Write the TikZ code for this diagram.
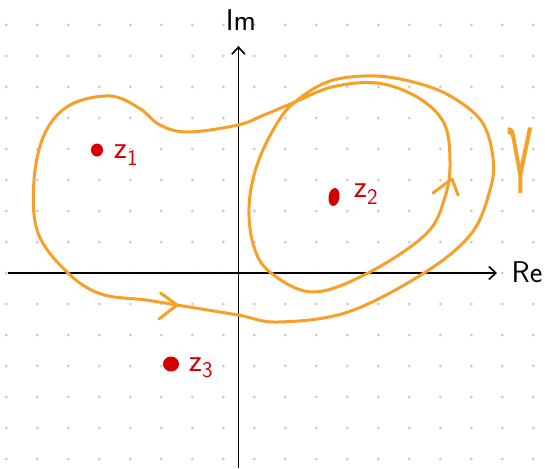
\documentclass[tikz,border=0pt]{standalone}
\usepackage{fontspec}
\newfontfamily\gammafont{DejaVu Sans}
\usetikzlibrary{arrows.meta,shapes.geometric}
\definecolor{gammaorange}{RGB}{246,160,40}
\definecolor{polered}{RGB}{212,0,0}
\definecolor{griddot}{RGB}{200,200,200}
\begin{document}
\begin{tikzpicture}[x=1pt,y=-1pt,
  axis/.style={line width=1.6pt, black, -{Straight Barb[length=7pt,width=13pt,line width=1.6pt]}},
  contour/.style={line width=3pt, gammaorange, line cap=round, line join=round},
  chevron/.style={line width=3pt, gammaorange, line cap=round, line join=round},
  pole/.style={ellipse, fill=polered, draw=none, inner sep=0pt},
  polelabel/.style={text=polered, font=\sffamily\fontsize{32}{32}\selectfont, inner sep=0pt},
  axislabel/.style={text=black, font=\sffamily\fontsize{30}{30}\selectfont, inner sep=0pt}]
\useasboundingbox (0,0) rectangle (545,468);
\fill[white] (0,0) rectangle (545,468);
% dotted grid
\foreach \i in {0,...,17}{
  \foreach \j in {0,...,14}{
    \fill[griddot] (6.3+31*\i,25+31*\j) circle (1.5pt);
  }
}
% axes
\coordinate (reS) at (8,273);
\coordinate (reE) at (497,273);
\coordinate (imS) at (238.4,468);
\coordinate (imE) at (238.4,46);
\draw[axis] (reS) -- (reE);
\draw[axis] (imS) -- (imE);
\node[axislabel] (relabel) at (527,272) {Re};
\node[axislabel] (imlabel) at (241,20) {Im};
% contour gamma
\draw[contour] plot[smooth cycle, tension=0.6] coordinates {
(177,305) (238,315) (278,322) (348,312) (424,273) (471,234) (490,190) (493,158)
(482,122) (452,97) (417,83) (375,76) (330,81) (295,102)
(276,125) (257,165) (249,207) (254,247) (271,273) (313,292) (368,273) (426,234)
(445,197) (450,162) (444,123) (417,97) (377,83) (332,87) (295,102)
(264,115) (238,125) (188,132) (160,125) (139,108) (110,96) (70,105) (45,133)
(34,180) (38,233) (68,273) (101,294) (146,300)};
% direction chevrons
\draw[chevron] (160.6,293) -- (177,305) -- (159,319);
\draw[chevron] (433,193) -- (452,179) -- (458,195);
\node[text=gammaorange, font=\gammafont\fontsize{30}{30}\selectfont, xscale=1.5, yscale=2.9, inner sep=0pt] (gam) at (521,161) {γ};
% poles
\node[pole, minimum width=12pt, minimum height=13pt] (p1) at (97,150) {};
\node[pole, minimum width=11pt, minimum height=18pt, rotate=-8] (p2) at (334,197) {};
\node[pole, minimum width=16pt, minimum height=15pt] (p3) at (171,364) {};
\node[polelabel] (l1) at (126,155) {z\textsubscript{1}};
\node[polelabel] (l2) at (366,194) {z\textsubscript{2}};
\node[polelabel] (l3) at (201,368) {z\textsubscript{3}};
\end{tikzpicture}
\end{document}
